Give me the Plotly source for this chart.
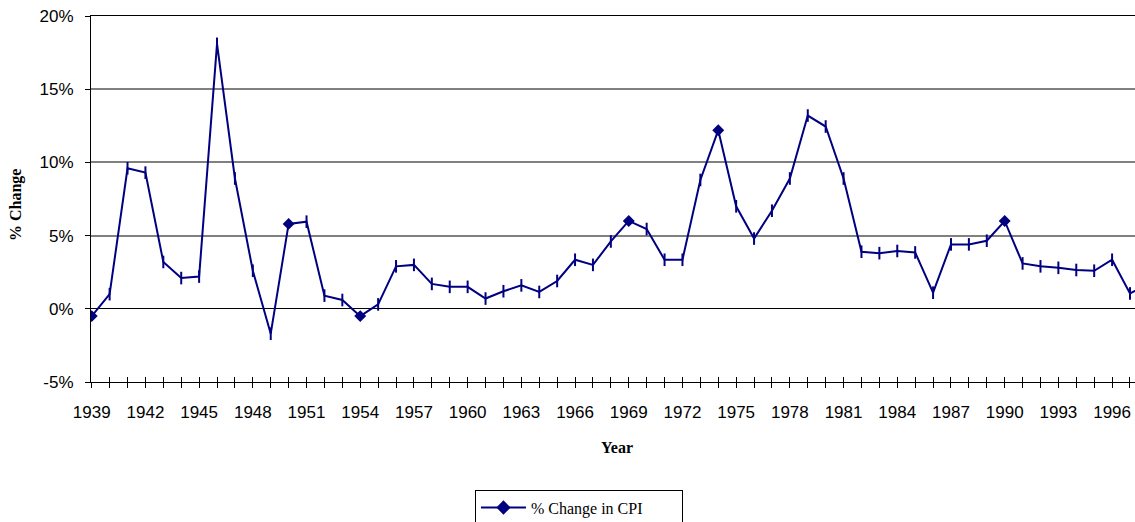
import plotly.graph_objects as go

# ---- data ----
years = list(range(1939, 1999))
cpi_change = [
    -0.5, 1.0, 9.6, 9.3, 3.2, 2.1, 2.2, 18.1, 8.9, 2.6,      # 1939-1948
    -1.7, 5.8, 5.95, 0.9, 0.6, -0.5, 0.3, 2.9, 3.0, 1.7,     # 1949-1958
    1.5, 1.5, 0.7, 1.2, 1.6, 1.15, 1.9, 3.35, 3.0, 4.6,      # 1959-1968
    6.0, 5.45, 3.35, 3.35, 8.8, 12.2, 7.0, 4.8, 6.7, 8.9,    # 1969-1978
    13.2, 12.45, 8.9, 3.9, 3.8, 3.95, 3.85, 1.1, 4.4, 4.4,   # 1979-1988
    4.65, 6.0, 3.1, 2.9, 2.8, 2.65, 2.6, 3.35, 1.05, 1.7,    # 1989-1998
]
diamond_years = [1939, 1950, 1954, 1969, 1974, 1990]
label_years = list(range(1939, 1997, 3))
y_ticks = [-5, 0, 5, 10, 15, 20]
y_tick_text = ["-5%", "0%", "5%", "10%", "15%", "20%"]
series_name = "% Change in CPI"

NAVY = "#000080"
SANS = "Liberation Sans, Arial, sans-serif"
SERIF = "Liberation Serif, Times New Roman, serif"

symbols = ["diamond" if y in diamond_years else "line-ns" for y in years]
sizes = [7 if y in diamond_years else 9 for y in years]

fig = go.Figure()
fig.add_trace(go.Scatter(
    x=years, y=cpi_change, mode="lines+markers", name=series_name,
    line=dict(color=NAVY, width=2),
    marker=dict(symbol=symbols, size=sizes, color=NAVY, opacity=1,
                line=dict(color=NAVY, width=2)),
    showlegend=True,
))

xr = [1938.96, 1997.28]
fig.update_layout(
    width=1135, height=522,
    margin=dict(l=91, r=0, t=16, b=140, autoexpand=False),
    paper_bgcolor="white", plot_bgcolor="white",
    showlegend=True,
    xaxis=dict(
        range=xr, tickmode="array", tickvals=years,
        ticktext=[str(y) if y in label_years else "" for y in years],
        ticks="outside", ticklen=5, tickcolor="black", tickwidth=1,
        showline=True, linecolor="black", linewidth=1, mirror=True,
        showgrid=False, zeroline=False,
        tickfont=dict(family=SANS, size=17, color="black"),
        ticklabelstandoff=10,
    ),
    xaxis2=dict(
        range=xr, overlaying="x", anchor="y", side="bottom",
        tickmode="array", tickvals=years, ticktext=["" for _ in years],
        ticks="inside", ticklen=5, tickcolor="black", tickwidth=1,
        showline=False, showgrid=False, zeroline=False,
    ),
    yaxis=dict(
        range=[-5, 20], tickmode="array", tickvals=y_ticks, ticktext=y_tick_text,
        ticks="outside", ticklen=5, tickcolor="black",
        showline=True, linecolor="black", linewidth=1,
        showgrid=True, gridcolor="#808080", gridwidth=1.5,
        zeroline=True, zerolinecolor="black", zerolinewidth=1,
        tickfont=dict(family=SANS, size=17, color="black"),
        ticklabelstandoff=8,
    ),
    legend=dict(
        orientation="h", x=0.4674, xanchor="center", y=-0.294, yanchor="top",
        bordercolor="black", borderwidth=1, bgcolor="white",
        font=dict(family=SERIF, size=16, color="black"), itemwidth=45,
        entrywidth=146, entrywidthmode="pixels",
    ),
    annotations=[
        dict(text="<b>% Change</b>", xref="paper", yref="paper",
             x=-0.0718, y=0.4836, xanchor="center", yanchor="middle",
             textangle=-90, showarrow=False,
             font=dict(family=SERIF, size=16, color="black")),
        dict(text="<b>Year</b>", xref="paper", yref="paper",
             x=0.5038, y=-0.180, xanchor="center", yanchor="middle",
             showarrow=False,
             font=dict(family=SERIF, size=16, color="black")),
    ],
)
# invisible helper trace so the inside-tick overlay axis is rendered
fig.add_trace(go.Scatter(x=[xr[0]], y=[None], xaxis="x2", yaxis="y",
                         showlegend=False, hoverinfo="skip"))

fig.write_html("out.html", include_plotlyjs=True,
               config={"displayModeBar": False},
               post_script="document.body.style.margin='0';document.body.style.overflow='hidden';")
